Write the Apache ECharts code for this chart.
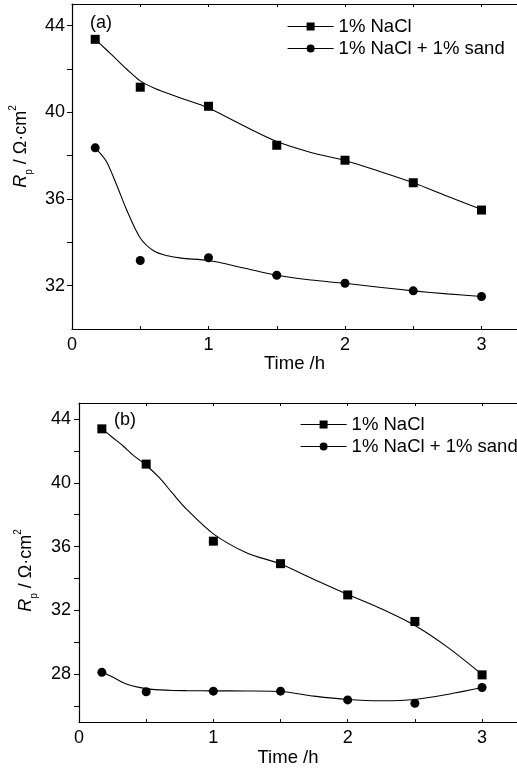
<!DOCTYPE html>
<html>
<head>
<meta charset="utf-8">
<title>Rp vs time</title>
<script src="https://cdn.jsdelivr.net/npm/echarts@6/dist/echarts.min.js"></script>
<style>
  html, body { margin: 0; padding: 0; background: #fff; }
  #chart { width: 517px; height: 768px; }
</style>
</head>
<body>
<div id="chart"></div>
<script>
// measured points (time in h)
var times = [0.17, 0.5, 1, 1.5, 2, 2.5, 3];
var aNaCl = [43.37, 41.16, 40.28, 38.48, 37.79, 36.75, 35.49];
var aSand = [38.36, 33.16, 33.29, 32.48, 32.11, 31.76, 31.5];
var bNaCl = [43.38, 41.17, 36.34, 34.93, 32.97, 31.31, 27.96];
var bSand = [28.12, 26.9, 26.94, 26.94, 26.39, 26.18, 27.17];

// fitted curves
var fitT = [0.17, 0.25, 0.33, 0.4, 0.5, 0.6, 0.7, 0.8, 1, 1.25, 1.5, 1.75, 2, 2.25, 2.5, 2.75, 3];
var aNaClFit = [43.37, 42.9, 42.42, 42.0, 41.45, 41.12, 40.88, 40.65, 40.2, 39.4, 38.65, 38.15, 37.78, 37.28, 36.75, 36.13, 35.52];
var aSandFit = [38.36, 37.75, 36.6, 35.5, 34.2, 33.6, 33.38, 33.27, 33.16, 32.83, 32.48, 32.26, 32.11, 31.93, 31.76, 31.62, 31.5];
var bNaClFit = [43.4, 42.84, 42.29, 41.75, 41.1, 40.3, 39.3, 38.35, 36.8, 35.6, 34.91, 33.94, 33.0, 32.1, 31.05, 29.65, 27.98];
var bSandFit = [28.14, 27.83, 27.46, 27.26, 27.1, 27.02, 26.98, 26.97, 26.96, 26.95, 26.92, 26.63, 26.42, 26.34, 26.42, 26.75, 27.17];

var names = ['1% NaCl', '1% NaCl + 1% sand'];
var xLabels = [0, 1, 2, 3];
var xTicks = [0.5, 1, 1.5, 2, 2.5, 3];
var aYLabels = [32, 36, 40, 44];
var aYTicks = [32, 34, 36, 38, 40, 42, 44];
var bYLabels = [28, 32, 36, 40, 44];
var bYTicks = [26, 28, 30, 32, 34, 36, 38, 40, 42, 44];

var FONT = 'Liberation Sans, Arial, sans-serif';

function pairs(xs, ys) {
  return xs.map(function (x, i) { return [x, ys[i]]; });
}

function xAxes(gi) {
  var base = {
    type: 'value', gridIndex: gi, min: 0, max: 3.26,
    splitLine: { show: false },
    axisLine: { lineStyle: { color: '#000', width: 1.2 } },
    axisTick: { inside: true, length: 3, customValues: xTicks, lineStyle: { color: '#000' } }
  };
  var bottom = echarts.util.merge({
    position: 'bottom',
    name: 'Time /h', nameLocation: 'middle',
    nameGap: gi === 0 ? 22 : 20,
    nameTextStyle: { color: '#000', fontSize: 18.5, fontFamily: FONT, padding: gi === 0 ? 0 : [0, 20, 0, 0] },
    axisLabel: { customValues: xLabels, color: '#000', fontSize: 18, fontFamily: FONT, margin: 7 }
  }, base, true);
  var top = echarts.util.merge({
    position: 'top',
    axisLabel: { show: false }
  }, base, true);
  return [bottom, top];
}

function yAxis(gi, min, labels, ticks) {
  return {
    type: 'value', gridIndex: gi, min: min, max: 45,
    splitLine: { show: false },
    axisLine: { show: true, lineStyle: { color: '#000', width: 1.2 } },
    axisTick: { inside: false, length: 5, customValues: ticks, lineStyle: { color: '#000' } },
    axisLabel: { customValues: labels, color: '#000', fontSize: 18, fontFamily: FONT, margin: gi === 0 ? 7 : 8 },
    name: '{i|R}{sub|p}{n| / Ω·cm}{sup|2}',
    nameLocation: 'middle', nameRotate: 90,
    nameGap: gi === 0 ? 32 : 40,
    nameTextStyle: {
      color: '#000', fontFamily: FONT,
      padding: gi === 0 ? [0, 0, 0, 40] : [0, 16, 0, 0],
      rich: {
        i: { fontStyle: 'italic', fontSize: 18, lineHeight: 26, fontFamily: FONT, color: '#000' },
        n: { fontSize: 18, lineHeight: 26, fontFamily: FONT, color: '#000' },
        sub: { fontSize: 10, lineHeight: 10, verticalAlign: 'bottom', fontFamily: FONT, color: '#000' },
        sup: { fontSize: 10, lineHeight: 20, verticalAlign: 'top', fontFamily: FONT, color: '#000' }
      }
    }
  };
}

function pointSeries(name, gi, ys, symbol) {
  return {
    name: name, type: 'line', xAxisIndex: gi * 2, yAxisIndex: gi,
    data: pairs(times, ys),
    symbol: symbol, symbolSize: 9, showSymbol: true,
    itemStyle: { color: '#000' },
    lineStyle: { color: '#000', opacity: 0 },
    z: 3
  };
}

function fitSeries(gi, ys) {
  return {
    name: 'fit', type: 'line', xAxisIndex: gi * 2, yAxisIndex: gi,
    data: pairs(fitT, ys),
    smooth: 0.3, showSymbol: false, symbol: 'none',
    lineStyle: { color: '#000', width: 1.1 },
    silent: true, z: 2
  };
}

function legend(left, top) {
  return {
    data: names, orient: 'vertical', left: left, top: top,
    itemWidth: 46, itemHeight: 10, itemGap: 3,
    textStyle: { color: '#000', fontSize: 18.5, fontFamily: FONT, lineHeight: 18 },
    lineStyle: { color: '#000', width: 1.2, opacity: 1 },
    selectedMode: false
  };
}

var chart = echarts.init(document.getElementById('chart'), null, { renderer: 'canvas' });
chart.setOption({
  animation: false,
  backgroundColor: '#fff',
  title: [
    { text: '(a)', left: 85, top: 9, textStyle: { color: '#000', fontSize: 18, fontWeight: 'normal', fontFamily: FONT } },
    { text: '(b)', left: 109, top: 406, textStyle: { color: '#000', fontSize: 18, fontWeight: 'normal', fontFamily: FONT } }
  ],
  legend: [legend(282, 12), legend(295, 410)],
  grid: [
    { left: 72, top: 4, right: -1, height: 325 },
    { left: 79, top: 403, right: -1, height: 322 }
  ],
  xAxis: xAxes(0).concat(xAxes(1)),
  yAxis: [yAxis(0, 30, aYLabels, aYTicks), yAxis(1, 25, bYLabels, bYTicks)],
  series: [
    fitSeries(0, aNaClFit), fitSeries(0, aSandFit),
    fitSeries(1, bNaClFit), fitSeries(1, bSandFit),
    pointSeries(names[0], 0, aNaCl, 'rect'), pointSeries(names[1], 0, aSand, 'circle'),
    pointSeries(names[0], 1, bNaCl, 'rect'), pointSeries(names[1], 1, bSand, 'circle')
  ]
});
</script>
</body>
</html>
